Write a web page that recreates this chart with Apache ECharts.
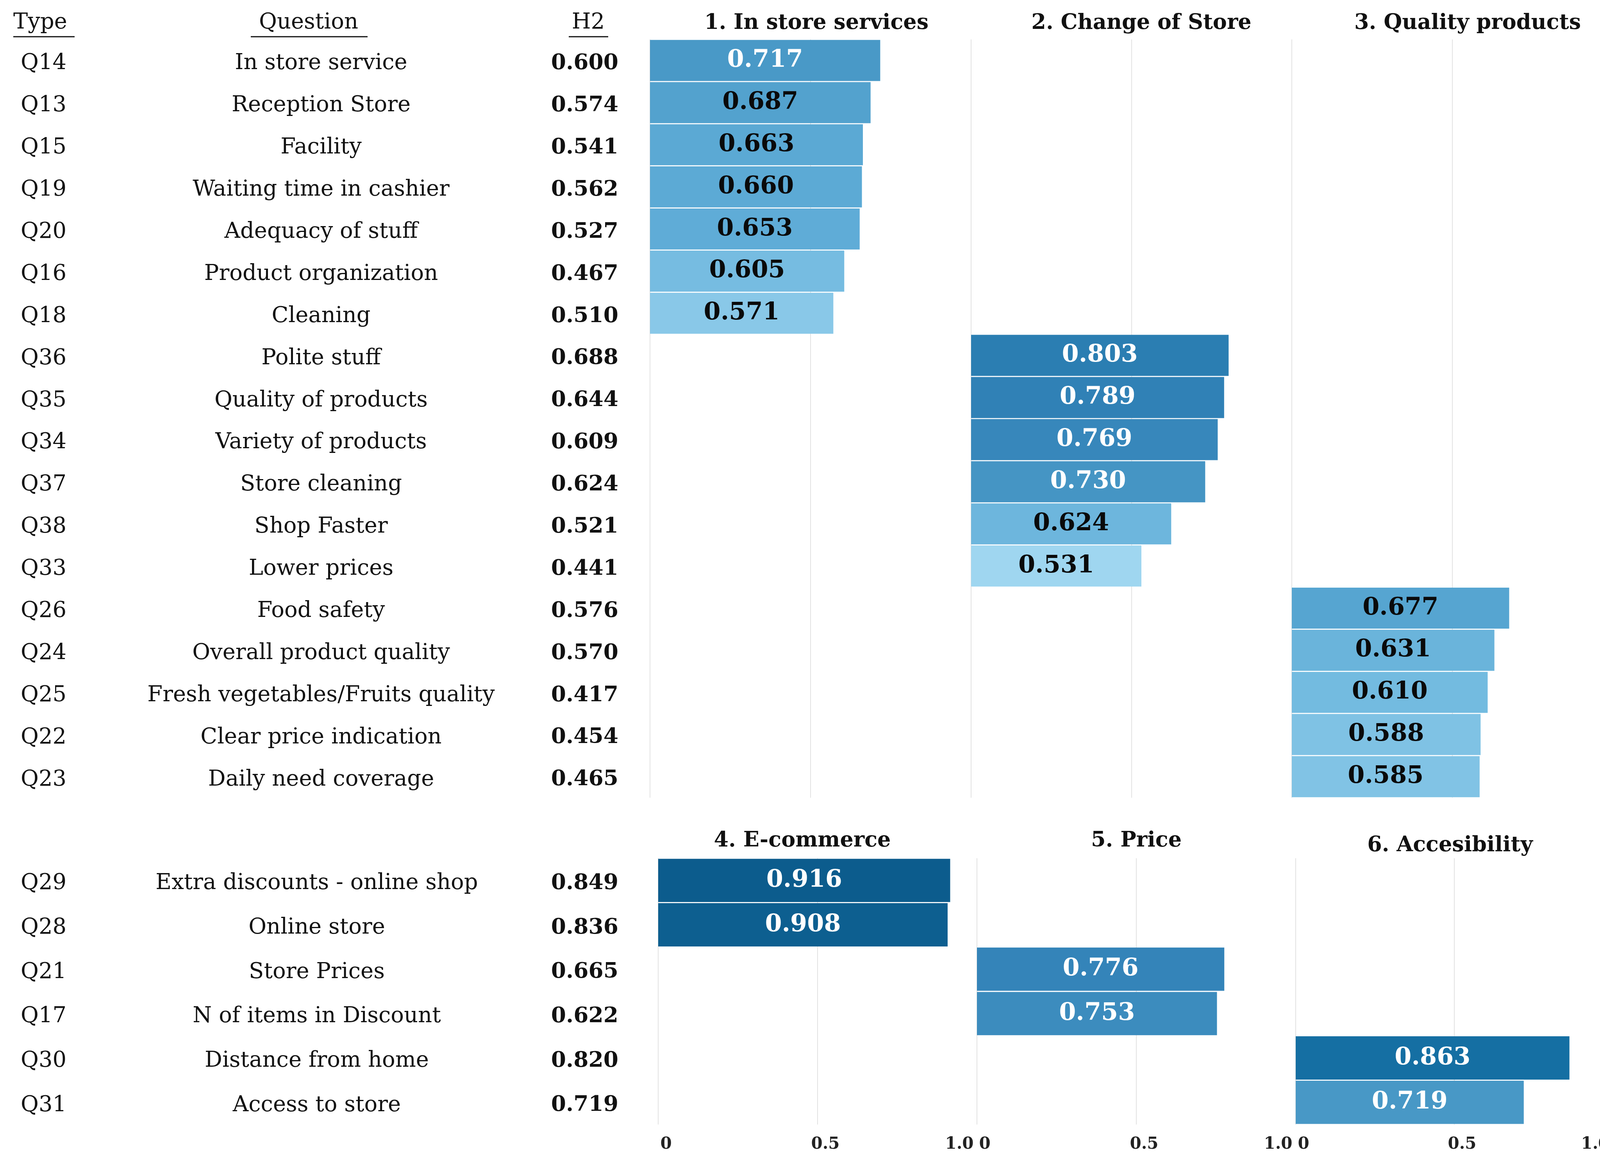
<!DOCTYPE html>
<html><head><meta charset="utf-8">
<script src="https://cdn.jsdelivr.net/npm/echarts@6/dist/echarts.min.js"></script>
<style>html,body{margin:0;padding:0;background:#fff}#c{width:4159px;height:2976px}</style>
</head><body><div id="c"></div>
<script>
// ---------- DATA ----------
const topTypes = ['Q14','Q13','Q15','Q19','Q20','Q16','Q18','Q36','Q35','Q34','Q37','Q38','Q33','Q26','Q24','Q25','Q22','Q23'];
const topQuestions = ['In store service','Reception Store','Facility','Waiting time in cashier','Adequacy of stuff','Product organization','Cleaning','Polite stuff','Quality of products','Variety of products','Store cleaning','Shop Faster','Lower prices','Food safety','Overall product quality','Fresh vegetables/Fruits quality','Clear price indication','Daily need coverage'];
const topH2 = [0.600,0.574,0.541,0.562,0.527,0.467,0.510,0.688,0.644,0.609,0.624,0.521,0.441,0.576,0.570,0.417,0.454,0.465];
const factor1 = [0.717,0.687,0.663,0.660,0.653,0.605,0.571,null,null,null,null,null,null,null,null,null,null,null];
const factor2 = [null,null,null,null,null,null,null,0.803,0.789,0.769,0.730,0.624,0.531,null,null,null,null,null];
const factor3 = [null,null,null,null,null,null,null,null,null,null,null,null,null,0.677,0.631,0.610,0.588,0.585];

const bottomTypes = ['Q29','Q28','Q21','Q17','Q30','Q31'];
const bottomQuestions = ['Extra discounts - online shop','Online store','Store Prices','N of items in Discount','Distance from home','Access to store'];
const bottomH2 = [0.849,0.836,0.665,0.622,0.820,0.719];
const factor4 = [0.916,0.908,null,null,null,null];
const factor5 = [null,null,0.776,0.753,null,null];
const factor6 = [null,null,null,null,0.863,0.719];

const panelTitles = ['1. In store services','2. Change of Store','3. Quality products','4. E-commerce','5. Price','6. Accesibility'];
const xTickLabels = ['0','0.5','1.0'];
const headers = ['Type','Question','H2'];

// ---------- STYLE ----------
const SERIF = "'DejaVu Serif', serif";
const colorStops = [[0.53,[160,214,240]],[0.60,[120,190,226]],[0.66,[92,170,213]],[0.72,[72,152,198]],[0.78,[51,131,184]],[0.86,[22,112,164]],[0.92,[11,91,139]]];
function scaleColor(v){
  if (v <= colorStops[0][0]) return 'rgb(' + colorStops[0][1].join(',') + ')';
  for (let i = 1; i < colorStops.length; i++){
    if (v <= colorStops[i][0]){
      const [a0,c0] = colorStops[i-1], [a1,c1] = colorStops[i];
      const t = (v - a0)/(a1 - a0);
      return 'rgb(' + c0.map((c,k)=>Math.round(c + (c1[k]-c)*t)).join(',') + ')';
    }
  }
  return 'rgb(' + colorStops[colorStops.length-1][1].join(',') + ')';
}

const topPanels = {lefts:[1664,2486,3307], widths:[822,821,822], top:101, height:1942};
const botPanels = {lefts:[1685,2501,3317], widths:[816,816,812], top:2198, height:682};

function tableLabel(types, qs, h2){
  return function(val, idx){
    return '{t|' + types[idx] + '}{q|' + qs[idx] + '}{h|' + h2[idx].toFixed(3) + '}';
  };
}
function richStyles(tw, qw, hw){
  return {
    t:{width:tw, align:'left', fontFamily:SERIF, fontSize:56, color:'#111', padding:[16,0,0,0]},
    q:{width:qw, align:'center', fontFamily:SERIF, fontSize:56, color:'#111', padding:[16,0,0,0]},
    h:{width:hw, align:'right', fontFamily:SERIF, fontSize:55, fontWeight:'bold', color:'#111', padding:[16,0,0,0]}
  };
}
const tickRich = {
  s:{fontFamily:SERIF, fontSize:42, fontWeight:'bold', color:'#222', padding:[0,0,0,40]},
  e:{fontFamily:SERIF, fontSize:42, fontWeight:'bold', color:'#222', padding:[0,90,0,0]}
};

const grids = [], xAxes = [], yAxes = [], series = [];
function addPanel(left, width, top, height, cats, values, isBottom, labelCfg){
  const gi = grids.length;
  grids.push({left:left, top:top, width:width, height:height});
  xAxes.push({
    type:'value', gridIndex:gi, min:0, max:1, interval:0.5,
    axisLine:{show:false}, axisTick:{show:false},
    splitLine:{show:true, lineStyle:{color:'#e2e2e2', width:2}},
    axisLabel: isBottom ? {
      show:true, margin:30, showMinLabel:true, showMaxLabel:true,
      formatter:(v)=>{ const k = Math.round(v*2); return (k === 2 ? '{e|' : '{s|') + xTickLabels[k] + '}'; },
      rich:tickRich
    } : {show:false}
  });
  yAxes.push(Object.assign({
    type:'category', gridIndex:gi, data:cats, inverse:true,
    axisLine:{show:false}, axisTick:{show:false}, splitLine:{show:false}
  }, labelCfg ? {axisLabel:labelCfg} : {axisLabel:{show:false}}));
  series.push({
    type:'bar', xAxisIndex:gi, yAxisIndex:gi, barCategoryGap:'2.5%',
    data: values.map(v => v == null ? '-' : {
      value:v,
      itemStyle:{color:scaleColor(v)},
      label:{color: v >= 0.7 ? '#ffffff' : '#0a0a0a'}
    }),
    label:{show:true, position:'inside', fontFamily:SERIF, fontSize:62, fontWeight:'bold',
      formatter:(p)=>p.value.toFixed(3)},
    silent:true
  });
}

const topFactors = [factor1, factor2, factor3];
topFactors.forEach((f, i) => {
  addPanel(topPanels.lefts[i], topPanels.widths[i], topPanels.top, topPanels.height, topTypes, f, false,
    i === 0 ? {show:true, margin:81, formatter:tableLabel(topTypes, topQuestions, topH2), rich:richStyles(269,1000,261)} : null);
});
const botFactors = [factor4, factor5, factor6];
botFactors.forEach((f, i) => {
  addPanel(botPanels.lefts[i], botPanels.widths[i], botPanels.top, botPanels.height, bottomTypes, f, true,
    i === 0 ? {show:true, margin:102, formatter:tableLabel(bottomTypes, bottomQuestions, bottomH2), rich:richStyles(258,1000,272)} : null);
});

// titles & headers
const graphic = [];
const titleFont = 'bold 54px ' + SERIF;
const topTitleX = [2090, 2922, 3757];
const botTitleX = [2054, 2909, 3712];
const botTitleY = [2154, 2154, 2166];
panelTitles.forEach((t, i) => {
  const x = i < 3 ? topTitleX[i] : botTitleX[i-3];
  const y = i < 3 ? 60 : botTitleY[i-3];
  graphic.push({type:'text', x:x, y:y, style:{text:t, font:titleFont, fill:'#111', textAlign:'center', textVerticalAlign:'middle'}});
});
const headerX = [34, 790, 1506];
const headerAlign = ['left','center','center'];
headers.forEach((h, i) => {
  graphic.push({type:'text', x:headerX[i], y:58, style:{text:h, font:'56px ' + SERIF, fill:'#111', textAlign:headerAlign[i], textVerticalAlign:'middle'}});
});
const underlines = [[34,191],[642,941],[1456,1557]];
underlines.forEach(u => graphic.push({type:'line', shape:{x1:u[0], y1:94, x2:u[1], y2:94}, style:{stroke:'#111', lineWidth:3}}));

const chart = echarts.init(document.getElementById('c'));
chart.setOption({
  backgroundColor:'#ffffff',
  animation:false,
  grid:grids, xAxis:xAxes, yAxis:yAxes, series:series,
  graphic:graphic
});
</script>
</body></html>
